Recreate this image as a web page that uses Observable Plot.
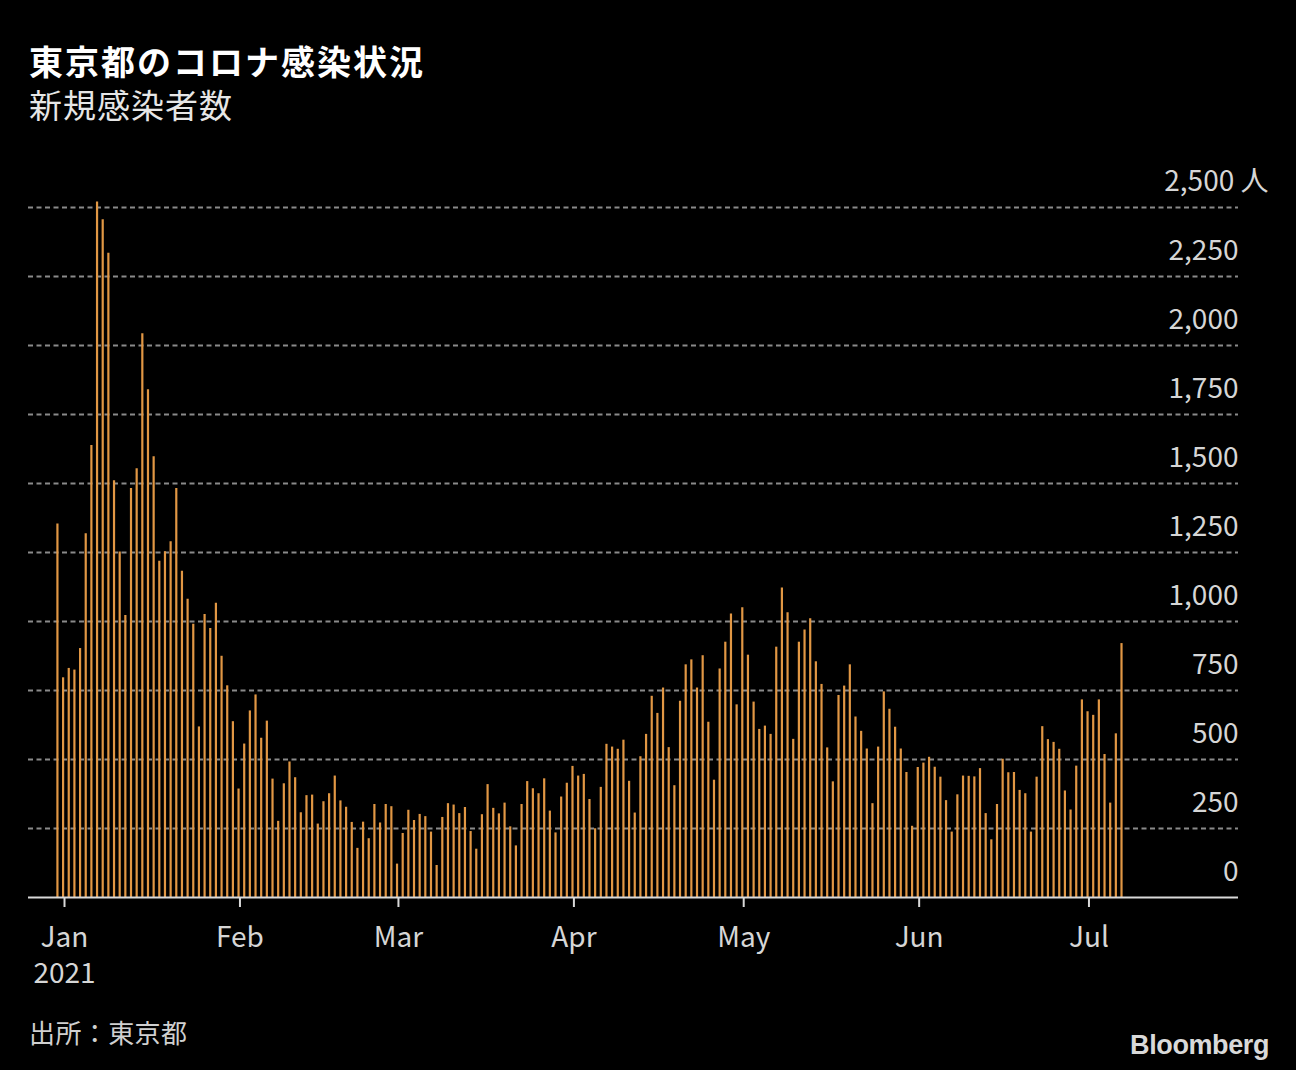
<!DOCTYPE html>
<html>
<head>
<meta charset="utf-8">
<script src="https://cdn.jsdelivr.net/npm/d3@7"></script>
<script src="https://cdn.jsdelivr.net/npm/@observablehq/plot@0.6"></script>
<style>
html, body { margin: 0; padding: 0; background: #000; }
#wrap { position: relative; width: 1296px; height: 1070px; background: #000; overflow: hidden; font-family: "Noto Sans CJK JP", sans-serif; }
.t { position: absolute; white-space: nowrap; line-height: 1; }
#title { left: 29px; top: 44px; font-size: 34px; font-weight: 700; color: #fff; letter-spacing: 2px; }
#subtitle { left: 29px; top: 88px; font-size: 33px; color: #e6e6e6; letter-spacing: 1px; }
#source { left: 29px; top: 1019px; font-size: 26px; color: #d0d0d0; letter-spacing: 0.4px; }
#logo { right: 27px; top: 1030px; font: 700 27px "Liberation Sans", Arial, sans-serif; color: #d9d9d9; letter-spacing: -0.4px; }
#chart { position: absolute; left: 0; top: 150px; }
#chart svg g[aria-label="x-axis"] line,
#chart svg g[aria-label="x-axis tick"] path { stroke: #d9d9d9; stroke-width: 2px; }
</style>
</head>
<body>
<div id="wrap">
  <div class="t" id="title">東京都のコロナ感染状況</div>
  <div class="t" id="subtitle">新規感染者数</div>
  <div id="chart"></div>
  <div class="t" id="source">出所：東京都</div>
  <div class="t" id="logo">Bloomberg</div>
</div>
<script>
// Daily new cases, Tokyo
const dec2020 = [1353]; // Dec 31
const jan2021 = [796, 830, 824, 902, 1318, 1638, 2520, 2456, 2334, 1510, 1252, 1022, 1482, 1553, 2043, 1840,
                 1597, 1218, 1253, 1289, 1482, 1182, 1081, 990, 618, 1025, 975, 1066, 874, 767, 637];
const feb2021 = [393, 556, 676, 734, 577, 639, 429, 276, 412, 491, 434, 307, 369, 371, 266, 347,
                 376, 440, 350, 327, 272, 178, 273, 213, 337, 270, 337, 329];
const mar2021 = [121, 232, 316, 279, 301, 293, 237, 116, 290, 340, 335, 304, 326, 239, 175, 300,
                 409, 323, 303, 342, 256, 187, 337, 420, 394, 376, 430, 313, 234, 364, 414];
const apr2021 = [475, 440, 446, 355, 249, 399, 555, 545, 537, 570, 421, 306, 510, 591, 729,
                 667, 759, 543, 405, 711, 843, 861, 759, 876, 635, 425, 828, 925, 1027, 698];
const may2021 = [1050, 878, 708, 609, 621, 591, 907, 1121, 1032, 573, 925, 969, 1010, 854, 772, 542,
                 419, 732, 766, 843, 654, 602, 538, 340, 545, 745, 682, 617, 538, 453, 258];
const jun2021 = [471, 487, 508, 472, 436, 351, 237, 372, 440, 439, 437, 467, 304, 209, 337,
                 501, 452, 453, 388, 376, 237, 436, 619, 572, 562, 537, 386, 317, 476, 716];
const jul2021 = [673, 660, 716, 518, 342, 593, 920];

const seriesStarts = [
  ["2020-12-31", dec2020], ["2021-01-01", jan2021], ["2021-02-01", feb2021], ["2021-03-01", mar2021],
  ["2021-04-01", apr2021], ["2021-05-01", may2021], ["2021-06-01", jun2021], ["2021-07-01", jul2021]
];

const monthTicks = ["2021-01-01", "2021-02-01", "2021-03-01", "2021-04-01", "2021-05-01", "2021-06-01", "2021-07-01"];
const monthLabels = ["Jan\n2021", "Feb", "Mar", "Apr", "May", "Jun", "Jul"];
const yTicks = [0, 250, 500, 750, 1000, 1250, 1500, 1750, 2000, 2250];
const yTopTick = [2500];
const yUnit = "人";

const DAY = 86400000;
const data = seriesStarts.flatMap(([start, vals]) => {
  const t0 = new Date(start + "T00:00:00Z").getTime();
  return vals.map((v, i) => ({date: new Date(t0 + i * DAY), value: v}));
});
const tickDates = monthTicks.map(s => new Date(s + "T00:00:00Z"));

const fmt = d3.format(",");
const barColor = "#e19744";
const labelColor = "#d6d6d6";

const chart = Plot.plot({
  width: 1296,
  height: 870,
  marginLeft: 28,
  marginRight: 58,
  marginTop: 57,
  marginBottom: 123,
  style: {background: "transparent", color: labelColor, fontFamily: "'Noto Sans CJK JP', sans-serif", fontSize: "28px", overflow: "visible"},
  x: {
    type: "utc",
    domain: [new Date("2020-12-25T15:20:00Z"), new Date("2021-07-27T10:05:00Z")],
    ticks: tickDates,
    tickFormat: () => "",
    tickSize: 10,
    tickPadding: 0,
    label: null
  },
  y: {domain: [0, 2500], axis: null},
  marks: [
    Plot.ruleY(yTicks.concat(yTopTick).filter(d => d > 0), {stroke: "#8a8a8a", strokeWidth: 2, strokeDasharray: "5,3.5"}),
    Plot.ruleX(data, {x: d => new Date(+d.date - 6 * 3600000), y1: 0, y2: "value", stroke: barColor, strokeWidth: 2.2}),
    Plot.ruleY([0], {stroke: "#d9d9d9", strokeWidth: 2}),
    Plot.text(yTicks, {y: d => d, frameAnchor: "right", textAnchor: "end", lineAnchor: "bottom", dy: -17, text: d => fmt(d), fill: labelColor, fontSize: 28}),
    Plot.text(yTopTick, {y: d => d, frameAnchor: "right", textAnchor: "end", lineAnchor: "bottom", dy: -17, dx: 30, text: d => fmt(d) + " " + yUnit, fill: labelColor, fontSize: 28}),
    Plot.text(tickDates, {x: d => d, frameAnchor: "bottom", textAnchor: "middle", lineAnchor: "top", dy: 24, lineHeight: 1.286, text: (d, i) => monthLabels[i], fill: labelColor, fontSize: 28})
  ]
});
document.getElementById("chart").appendChild(chart);
</script>
</body>
</html>
